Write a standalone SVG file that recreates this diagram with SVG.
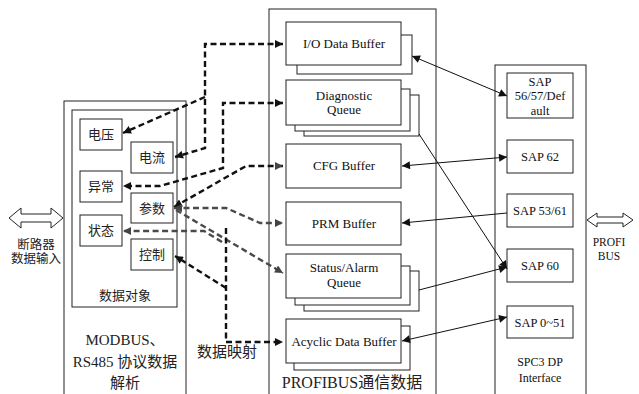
<svg xmlns="http://www.w3.org/2000/svg" width="639" height="394" viewBox="0 0 639 394">
<style>
.box{fill:#fff;stroke:#222;stroke-width:1}
.en{font-family:"Liberation Serif","Noto Sans CJK SC",serif;fill:#111;text-anchor:middle}
.zh{font-family:"Liberation Serif","Noto Sans CJK SC",sans-serif;fill:#222;text-anchor:middle}
.sl{fill:none;stroke:#111;stroke-width:1}
.dk{fill:none;stroke:#111;stroke-width:2.4;stroke-dasharray:6 3.5}
.dg{fill:none;stroke:#4a4a4a;stroke-width:2.4;stroke-dasharray:6 3.5}
</style>
<defs>
<marker id="ah" viewBox="0 0 10 10" refX="10" refY="5" markerWidth="9" markerHeight="8" markerUnits="userSpaceOnUse" orient="auto-start-reverse"><path d="M0,0 L10,5 L0,10 z" fill="#111"/></marker>
<marker id="ag" viewBox="0 0 10 10" refX="10" refY="5" markerWidth="9" markerHeight="8" markerUnits="userSpaceOnUse" orient="auto-start-reverse"><path d="M0,0 L10,5 L0,10 z" fill="#444"/></marker>
</defs>
<rect width="639" height="394" fill="#fff"/>

<g id="modbus">
<rect class="box" x="64" y="101" width="122" height="300"/>
<text class="zh" x="125" y="345" font-size="15">MODBUS、</text>
<text class="zh" x="125" y="367" font-size="15">RS485 协议数据</text>
<text class="zh" x="125" y="388" font-size="15">解析</text>
</g>
<g id="data-objects">
<rect class="box" x="72" y="110" width="105" height="197"/>
<text class="zh" x="125" y="300" font-size="13">数据对象</text>
</g>
<g id="dianya"><rect class="box" x="80" y="119" width="42" height="31"/><text class="zh" x="101" y="139" font-size="13">电压</text></g>
<g id="dianliu"><rect class="box" x="131" y="142" width="42" height="31"/><text class="zh" x="152" y="162" font-size="13">电流</text></g>
<g id="yichang"><rect class="box" x="80" y="171" width="42" height="31"/><text class="zh" x="101" y="191" font-size="13">异常</text></g>
<g id="canshu"><rect class="box" x="131" y="193" width="42" height="30"/><text class="zh" x="152" y="213" font-size="13">参数</text></g>
<g id="zhuangtai"><rect class="box" x="80" y="215" width="42" height="31"/><text class="zh" x="101" y="235" font-size="13">状态</text></g>
<g id="kongzhi"><rect class="box" x="131" y="239" width="42" height="31"/><text class="zh" x="152" y="259" font-size="13">控制</text></g>

<g id="breaker-input">
<polygon class="box" points="9,218 21,208 21,214 51,214 51,208 63,218 51,228 51,222 21,222 21,228"/>
<text class="zh" x="36" y="249" font-size="12.5">断路器</text>
<text class="zh" x="36" y="263" font-size="12.5">数据输入</text>
</g>

<g id="profibus-data">
<rect class="box" x="269" y="9" width="167" height="395"/>
<text class="zh" x="352" y="388" font-size="16">PROFIBUS通信数据</text>
</g>
<g id="io-buffer">
<rect class="box" x="297" y="35" width="115" height="39"/>
<rect class="box" x="286" y="22" width="115" height="43"/>
<text class="en" x="344" y="48" font-size="13">I/O Data Buffer</text>
</g>
<g id="diag-queue">
<rect class="box" x="304" y="95" width="115" height="41"/>
<rect class="box" x="295" y="89" width="115" height="42"/>
<rect class="box" x="286" y="80" width="115" height="45"/>
<text class="en" x="344" y="100" font-size="13">Diagnostic</text>
<text class="en" x="344" y="114" font-size="13">Queue</text>
</g>
<g id="cfg-buffer">
<rect class="box" x="286" y="144" width="115" height="44"/>
<text class="en" x="344" y="170" font-size="13">CFG  Buffer</text>
</g>
<g id="prm-buffer">
<rect class="box" x="286" y="202" width="115" height="43"/>
<text class="en" x="344" y="228" font-size="13">PRM Buffer</text>
</g>
<g id="status-queue">
<rect class="box" x="304" y="271" width="115" height="40"/>
<rect class="box" x="295" y="266" width="115" height="39"/>
<rect class="box" x="286" y="254" width="115" height="44"/>
<text class="en" x="344" y="272" font-size="13">Status/Alarm</text>
<text class="en" x="344" y="287" font-size="13">Queue</text>
</g>
<g id="acyclic-buffer">
<rect class="box" x="294" y="326" width="116" height="44"/>
<rect class="box" x="286" y="319" width="115" height="44"/>
<text class="en" x="344" y="346" font-size="13">Acyclic Data Buffer</text>
</g>

<g id="spc3">
<rect class="box" x="495" y="65" width="91" height="340"/>
<text class="en" x="540" y="366" font-size="12">SPC3 DP</text>
<text class="en" x="540" y="382" font-size="12">Interface</text>
</g>
<g id="sap56"><rect class="box" x="507" y="73" width="66" height="45"/>
<text class="en" x="540" y="86" font-size="12.5">SAP</text>
<text class="en" x="540" y="100" font-size="12.5">56/57/Def</text>
<text class="en" x="540" y="115" font-size="12.5">ault</text></g>
<g id="sap62"><rect class="box" x="507" y="140" width="66" height="33"/><text class="en" x="540" y="161" font-size="12.5">SAP 62</text></g>
<g id="sap5361"><rect class="box" x="507" y="194" width="66" height="33"/><text class="en" x="540" y="215" font-size="12.5">SAP 53/61</text></g>
<g id="sap60"><rect class="box" x="507" y="249" width="66" height="33"/><text class="en" x="540" y="270" font-size="12.5">SAP 60</text></g>
<g id="sap051"><rect class="box" x="507" y="306" width="66" height="32"/><text class="en" x="540" y="327" font-size="12.5">SAP 0~51</text></g>

<g id="profibus-bus">
<polygon class="box" points="587,220 597,213 597,217 623,217 623,213 633,220 623,227 623,223 597,223 597,227"/>
<text class="en" x="609" y="246" font-size="11.5">PROFI</text>
<text class="en" x="609" y="260" font-size="11.5">BUS</text>
</g>

<text class="zh" x="227" y="357" font-size="15">数据映射</text>

<g id="connectors">
<path class="sl" d="M412,56 L507,96" marker-start="url(#ah)" marker-end="url(#ah)"/>
<path class="sl" d="M402,166 L507,157" marker-start="url(#ah)" marker-end="url(#ah)"/>
<path class="sl" d="M419,134 L507,269" marker-end="url(#ah)"/>
<path class="sl" d="M402,223 L507,213" marker-start="url(#ah)"/>
<path class="sl" d="M419,290 L507,267" marker-end="url(#ah)"/>
<path class="sl" d="M402,341 L507,317" marker-start="url(#ah)" marker-end="url(#ah)"/>

<path class="dk" d="M283,44 H205 V148 L175,157" marker-start="url(#ah)" marker-end="url(#ah)"/>
<path class="dk" d="M205,97 L123,133" marker-end="url(#ah)"/>
<path class="dk" d="M283,103 H223 V168 L160,186 H123" marker-start="url(#ah)" marker-end="url(#ah)"/>
<path class="dk" d="M174,207 L246,166 H283" marker-start="url(#ah)" marker-end="url(#ag)"/>
<path class="dg" d="M174,208 H226 L260,223 H283" marker-start="url(#ag)" marker-end="url(#ag)"/>
<path class="dg" d="M176,210 L283,273" marker-end="url(#ag)"/>
<path class="dg" d="M222,242 L204,231 H123" marker-end="url(#ag)"/>
<path class="dk" d="M226,288 L175,256" marker-end="url(#ah)"/>
<path class="dk" d="M226,228 V342 H283" marker-end="url(#ah)"/>
</g>
</svg>
